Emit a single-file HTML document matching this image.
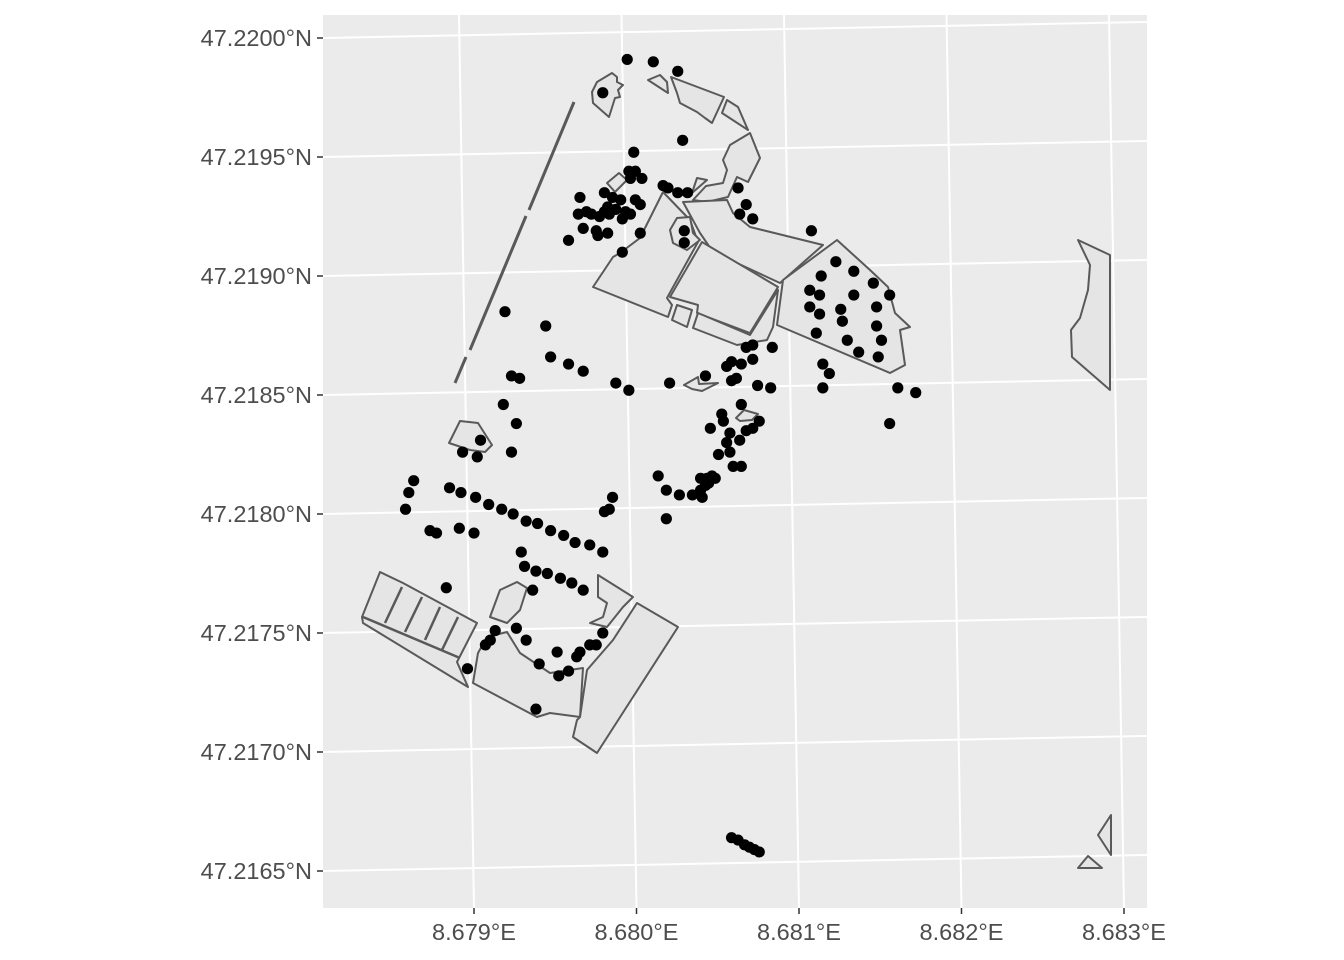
<!DOCTYPE html>
<html><head><meta charset="utf-8"><style>
body{margin:0;background:#fff}
svg{display:block;font-family:"Liberation Sans",sans-serif}
</style></head><body>
<svg id="chart" width="1344" height="960">
<rect x="323" y="15" width="824" height="893" fill="#ebebeb"/>
<g id="grid"></g>
<g fill="#e5e5e5" stroke="#595959" stroke-width="2" stroke-linejoin="round">
<path d="M592,92 L597,82 L612,73 L617,77 L617,82 L623,85 L618,90 L620,97 L615,98 L609,117 L593,103Z"/>
<path d="M648,80 L660,75 L667,82 L668,93Z"/>
<path d="M671,77 L724,97 L712,123 L705,118 L697,112 L680,103 L677,93Z"/>
<path d="M727,100 L738,107 L748,130 L722,113Z"/>
<path d="M750,133 L760,158 L748,182 L737,177 L728,197 L707,202 L693,200 L706,186 L723,183 L727,170 L723,160 L730,145Z"/>
<path d="M697,178 L707,180 L692,193Z"/>
<path d="M607,183 L619,173 L627,180 L615,192Z"/>
<path d="M663,192 L690,220 L698,242 L667,298 L672,305 L668,317 L593,287 L613,257 L620,253 L640,238Z"/>
<path d="M677,218 L690,217 L693,233 L700,240 L687,250 L673,243 L670,230Z"/>
<path d="M683,202 L727,200 L733,213 L750,227 L823,245 L780,283 L713,252 L700,233Z"/>
<path d="M702,242 L778,287 L750,333 L697,313 L698,305 L670,297Z"/>
<path d="M677,305 L692,310 L687,327 L672,320Z"/>
<path d="M698,313 L750,335 L778,290 L773,327 L767,340 L737,345 L693,328Z"/>
<path d="M783,280 L837,240 L870,270 L888,287 L895,313 L910,327 L900,330 L905,365 L890,373 L777,325Z"/>
<path d="M362,617 L380,572 L403,583 L477,623 L457,662 L468,687 L363,623Z"/>
<path d="M363,617 L460,658 M402,587 L385,623 M422,597 L405,632 M440,607 L425,640 M458,617 L442,650" fill="none" stroke-width="2.5"/>
<path d="M490,617 L500,590 L517,582 L527,588 L520,610 L507,623Z"/>
<path d="M473,683 L478,653 L487,637 L507,632 L520,653 L550,673 L583,668 L580,717 L550,713 L537,717Z"/>
<path d="M598,575 L633,597 L623,607 L607,627 L590,623 L603,617 L607,603 L598,597Z"/>
<path d="M637,603 L678,627 L597,753 L573,737 L577,720 L580,717 L587,670 L613,640Z"/>
<path d="M449,443 L460,421 L478,423 L492,445 L485,452 L470,450Z"/>
<path d="M684,385 L698,377 L699,384 L718,383 L702,391 L692,389Z"/>
<path d="M736,418 L744,410 L758,414 L752,420 L740,421Z"/>
<path d="M1078,240 L1110,255 L1110,390 L1072,357 L1071,330 L1080,318 L1088,290 L1090,265Z"/>
<path d="M1098,835 L1111,815 L1111,855Z"/>
<path d="M1078,868 L1088,856 L1102,868Z"/>
<path d="M574,102 L529,210 M526,216 L470,350 M466,357 L455,383" fill="none" stroke-width="3"/>
</g>
<g id="points"></g>
<g id="axes"></g>
</svg>
<script>
// offsets in 1e-5 degrees from 8.67900 E / 47.21650 N
const lonOff=[94,110,125,79,128,98,95,99,96,103,116,119,125,131,80,65,85,90,99,102,82,87,93,96,64,69,72,77,91,83,80,67,75,82,76,102,91,58,129,129,162,167,163,171,207,
222,213,233,245,206,212,233,255,225,206,247,212,226,247,210,229,250,236,248,214,218,214,260,271,255,
19,44,47,58,67,23,28,87,95,120,18,26,23,4,-7,2,
158,164,171,155,167,171,183,161,158,142,174,182,164,152,153,145,167,171,175,157,163,155,150,157,164,159,148,143,142,139,144,146,139,134,126,118,113,140,85,83,80,118,
-37,-40,-42,-15,-8,1,9,17,24,32,39,47,55,62,71,79,-27,-23,-9,0,
29,31,38,45,53,60,67,-17,36,
26,13,10,7,32,79,71,75,65,63,51,40,58,52,-4,38,
158,162,166,169,172,175];
const latOff=[341,340,336,327,307,302,294,294,291,291,288,287,285,285,285,283,283,282,282,280,279,278,277,276,276,277,276,275,274,276,277,270,269,268,267,268,260,265,269,264,287,280,276,274,269,
256,250,252,247,244,242,242,242,236,237,237,234,231,229,226,223,223,218,216,213,209,203,203,201,188,
235,229,216,213,210,208,207,205,202,205,196,188,176,181,176,174,
214,213,215,212,220,221,220,207,206,208,204,203,196,192,189,186,185,186,189,184,181,180,175,176,170,170,165,165,162,165,163,166,160,158,158,160,166,157,157,152,151,148,
164,159,152,161,159,157,154,152,150,147,146,143,141,138,137,134,143,142,144,142,
134,128,126,125,123,121,118,119,118,
102,101,97,95,97,100,95,95,92,90,92,87,84,82,85,68,
14,13,11,10,9,8];
const xTicks=["8.679°E","8.680°E","8.681°E","8.682°E","8.683°E"];
const yTicks=["47.2165°N","47.2170°N","47.2175°N","47.2180°N","47.2185°N","47.2190°N","47.2195°N","47.2200°N"];
const NS="http://www.w3.org/2000/svg";
function xs(o){return 474+o*1.63;}
function ys(o){return 871-o*2.38;}
function mk(t,a,p){const e=document.createElementNS(NS,t);for(const k in a)e.setAttribute(k,a[k]);p.appendChild(e);return e;}
const grid=document.getElementById('grid'),axes=document.getElementById('axes'),pts=document.getElementById('points');
yTicks.forEach((t,i)=>{
 const yl=871-i*119, yr=yl-16;
 const l=mk('line',{x1:323,y1:yl,x2:1147,y2:yr,stroke:'#fff','stroke-width':2},grid);
 
 
 const tk=mk('line',{x1:317,y1:yl,x2:323,y2:yl,stroke:'#333','stroke-width':1.5},axes);
 
 
 const tx=mk('text',{x:312,y:yl+8,'text-anchor':'end','font-size':23.5,fill:'#4d4d4d'},axes);
 tx.textContent=t;
 
 
});
xTicks.forEach((t,i)=>{
 const xb=474+i*162.5, xt=xb-15;
 const l=mk('line',{x1:xt,y1:15,x2:xb,y2:908,stroke:'#fff','stroke-width':2},grid);
 
 
 const tk=mk('line',{x1:xb,y1:908,x2:xb,y2:914,stroke:'#333','stroke-width':1.5},axes);
 
 
 const tx=mk('text',{x:xb,y:940,'text-anchor':'middle','font-size':23.5,fill:'#4d4d4d'},axes);
 tx.textContent=t;
 
 
});
lonOff.forEach((o,i)=>{
 const c=mk('circle',{cx:xs(o),cy:ys(latOff[i]),r:5.6,fill:'#000'},pts);
 
 
});
</script>
</body></html>
